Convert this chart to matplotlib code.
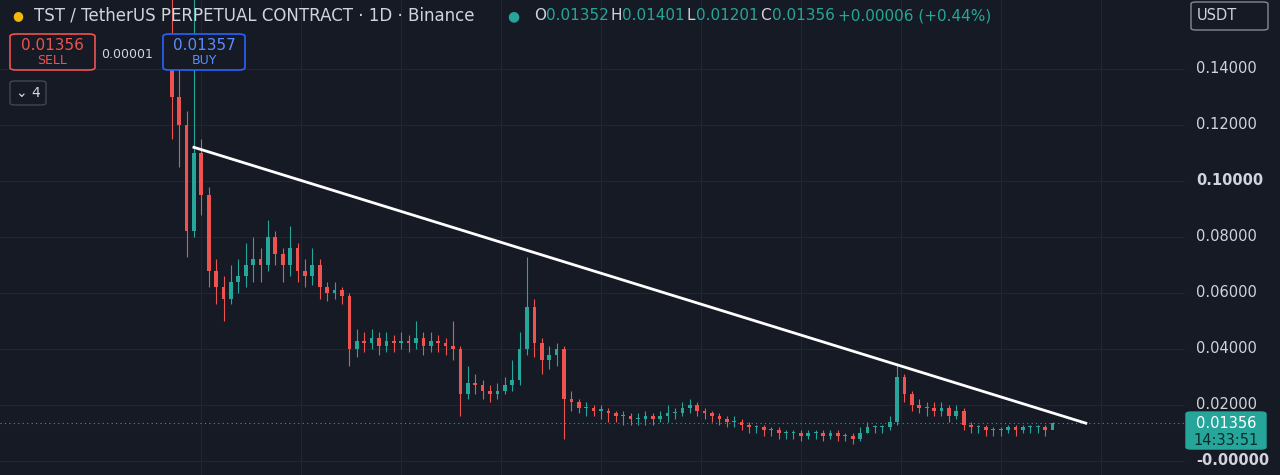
import matplotlib
matplotlib.use("Agg")
import matplotlib.pyplot as plt
from matplotlib.patches import FancyBboxPatch

UP = "#26a69a"
DOWN = "#ef5350"
BG = "#161a25"
TXT = "#d1d4dc"

closes = [0.130, 0.120, 0.082, 0.110, 0.095, 0.068, 0.062, 0.058, 0.064, 0.066,
          0.070, 0.072, 0.070, 0.080, 0.074, 0.070, 0.076, 0.068, 0.066, 0.070,
          0.062, 0.060, 0.061, 0.059, 0.040, 0.043, 0.042, 0.044, 0.041, 0.043,
          0.042, 0.043, 0.042, 0.044, 0.041, 0.043, 0.042, 0.041, 0.040, 0.024,
          0.028, 0.027, 0.025, 0.024, 0.025, 0.027, 0.029, 0.040, 0.055, 0.042,
          0.036, 0.038, 0.040, 0.022, 0.021, 0.019, 0.019, 0.018, 0.018, 0.017,
          0.016, 0.016, 0.015, 0.015, 0.016, 0.015, 0.016, 0.017, 0.017, 0.019,
          0.020, 0.018, 0.017, 0.016, 0.015, 0.014, 0.014, 0.013, 0.012, 0.012,
          0.011, 0.011, 0.010, 0.010, 0.010, 0.009, 0.010, 0.010, 0.009, 0.010,
          0.009, 0.009, 0.008, 0.010, 0.012, 0.012, 0.012, 0.014, 0.030, 0.024,
          0.020, 0.019, 0.019, 0.018, 0.019, 0.016, 0.018, 0.013, 0.012, 0.012,
          0.011, 0.011, 0.011, 0.012, 0.011, 0.012, 0.012, 0.012, 0.011, 0.01356]
highs = [0.165, 0.150, 0.125, 0.165, 0.115, 0.098, 0.072, 0.066, 0.070, 0.072,
         0.078, 0.080, 0.076, 0.086, 0.082, 0.076, 0.084, 0.078, 0.072, 0.076,
         0.072, 0.064, 0.064, 0.062, 0.060, 0.047, 0.046, 0.047, 0.046, 0.046,
         0.045, 0.046, 0.045, 0.050, 0.046, 0.046, 0.045, 0.044, 0.050, 0.041,
         0.034, 0.031, 0.029, 0.027, 0.028, 0.030, 0.036, 0.046, 0.073, 0.058,
         0.044, 0.041, 0.042, 0.041, 0.025, 0.022, 0.021, 0.020, 0.020, 0.019,
         0.018, 0.018, 0.017, 0.017, 0.018, 0.017, 0.018, 0.020, 0.019, 0.021,
         0.022, 0.021, 0.019, 0.018, 0.017, 0.016, 0.016, 0.015, 0.014, 0.013,
         0.013, 0.012, 0.012, 0.011, 0.011, 0.011, 0.011, 0.011, 0.011, 0.011,
         0.011, 0.010, 0.010, 0.012, 0.014, 0.013, 0.013, 0.016, 0.035, 0.031,
         0.025, 0.022, 0.021, 0.021, 0.021, 0.020, 0.020, 0.019, 0.014, 0.013,
         0.013, 0.012, 0.012, 0.013, 0.013, 0.013, 0.013, 0.013, 0.013, 0.0140]
lows = [0.115, 0.105, 0.073, 0.080, 0.088, 0.062, 0.056, 0.050, 0.056, 0.060,
        0.062, 0.064, 0.064, 0.068, 0.070, 0.064, 0.066, 0.064, 0.062, 0.063,
        0.058, 0.057, 0.058, 0.056, 0.034, 0.037, 0.039, 0.040, 0.038, 0.039,
        0.039, 0.040, 0.039, 0.040, 0.038, 0.039, 0.039, 0.038, 0.036, 0.016,
        0.022, 0.024, 0.022, 0.021, 0.022, 0.024, 0.025, 0.027, 0.038, 0.037,
        0.031, 0.033, 0.034, 0.008, 0.018, 0.017, 0.016, 0.016, 0.015, 0.014,
        0.014, 0.013, 0.013, 0.013, 0.013, 0.013, 0.014, 0.014, 0.015, 0.016,
        0.017, 0.016, 0.015, 0.014, 0.013, 0.012, 0.012, 0.011, 0.010, 0.010,
        0.009, 0.009, 0.008, 0.008, 0.008, 0.007, 0.008, 0.008, 0.007, 0.008,
        0.007, 0.007, 0.006, 0.007, 0.010, 0.010, 0.010, 0.011, 0.013, 0.021,
        0.018, 0.017, 0.016, 0.016, 0.016, 0.014, 0.015, 0.011, 0.010, 0.010,
        0.009, 0.009, 0.009, 0.010, 0.009, 0.010, 0.010, 0.010, 0.009, 0.0120]
first_open = 0.140
opens = [first_open] + closes[:-1]

trend_x = [3, 123.5]
trend_y = [0.112, 0.0135]

yticks = [0.0, 0.02, 0.04, 0.06, 0.08, 0.10, 0.12, 0.14]
last_price = 0.01356

fig = plt.figure(figsize=(12.8, 4.75), dpi=100)
fig.patch.set_facecolor(BG)
ax = fig.add_axes([0, 0, 1185 / 1280, 1])
ax.set_facecolor(BG)
ax.set_xlim(-23.2, 136.9)
ax.set_ylim(-0.005, 0.1646)

for v in yticks:
    ax.axhline(v, color="#222632", lw=0.8, zorder=0)
for gx in [4, 17.5, 31, 44.5, 58, 71.5, 85, 98.5, 112, 125.5]:
    ax.axvline(gx, color="#222632", lw=0.8, zorder=0)

for i, (o, h, l, c) in enumerate(zip(opens, highs, lows, closes)):
    col = UP if c >= o else DOWN
    ax.vlines(i, l, h, color=col, lw=0.8, zorder=2)
    lo, hi = min(o, c), max(o, c)
    ax.bar(i, max(hi - lo, 0.0004), bottom=lo, width=0.5, color=col, zorder=3)

ax.plot(trend_x, trend_y, color="white", lw=2, zorder=4)
ax.axhline(last_price, color=UP, lw=0.8, ls=(0, (1, 3)), zorder=1)

for s in ax.spines.values():
    s.set_visible(False)
ax.set_xticks([])
ax.set_yticks([])

# right price scale
for v in yticks:
    yf = (v + 0.005) / 0.1696
    bold = v in (0.0, 0.10)
    lab = "-0.00000" if v == 0.0 else f"{v:.5f}"
    fig.text(1196 / 1280, yf, lab, color=TXT, fontsize=10.5, va="center",
             fontweight="bold" if bold else "normal")

yf = (last_price + 0.005) / 0.1696
fig.patches.append(FancyBboxPatch((1186 / 1280, yf - 26 / 475), 80 / 1280, 37 / 475,
                                  boxstyle="round,pad=0,rounding_size=0.004",
                                  transform=fig.transFigure, color=UP, zorder=5))
fig.text(1226 / 1280, yf, "0.01356", color="white", fontsize=10.5,
         ha="center", va="center", zorder=6)
fig.text(1226 / 1280, yf - 17 / 475, "14:33:51", color="#0d2b28", fontsize=10.5,
         ha="center", va="center", zorder=6)

fig.patches.append(FancyBboxPatch((1191 / 1280, 445 / 475), 77 / 1280, 28 / 475,
                                  boxstyle="round,pad=0,rounding_size=0.004",
                                  transform=fig.transFigure, fc=BG, ec="#868993", lw=1))
fig.text(1197 / 1280, 459 / 475, "USDT", color=TXT, fontsize=10.5, va="center")

# header
fig.text(12 / 1280, 459 / 475, "●", color="#f0b90b", fontsize=9, va="center")
fig.text(34 / 1280, 459 / 475, "TST / TetherUS PERPETUAL CONTRACT · 1D · Binance",
         color=TXT, fontsize=12, va="center")
fig.text(507 / 1280, 459 / 475, "●", color=UP, fontsize=10, va="center")
hdr = [("O", 534), ("0.01352", 546), ("H", 611), ("0.01401", 622), ("L", 686),
       ("0.01201", 696), ("C", 760), ("0.01356", 772), ("+0.00006 (+0.44%)", 838)]
for t, x in hdr:
    fig.text(x / 1280, 459 / 475, t, color=TXT if len(t) == 1 else UP,
             fontsize=11, va="center")

fig.patches.append(FancyBboxPatch((10 / 1280, 405 / 475), 85 / 1280, 36 / 475,
                                  boxstyle="round,pad=0,rounding_size=0.005",
                                  transform=fig.transFigure, fc=BG, ec=DOWN, lw=1.2))
fig.text(52 / 1280, 430 / 475, "0.01356", color=DOWN, fontsize=11, ha="center", va="center")
fig.text(52 / 1280, 414 / 475, "SELL", color=DOWN, fontsize=9, ha="center", va="center")
fig.text(127 / 1280, 421 / 475, "0.00001", color=TXT, fontsize=9, ha="center", va="center")
fig.patches.append(FancyBboxPatch((163 / 1280, 405 / 475), 82 / 1280, 36 / 475,
                                  boxstyle="round,pad=0,rounding_size=0.005",
                                  transform=fig.transFigure, fc=BG, ec="#2962ff", lw=1.2))
fig.text(204 / 1280, 430 / 475, "0.01357", color="#5b8cff", fontsize=11, ha="center", va="center")
fig.text(204 / 1280, 414 / 475, "BUY", color="#5b8cff", fontsize=9, ha="center", va="center")
fig.patches.append(FancyBboxPatch((10 / 1280, 370 / 475), 36 / 1280, 24 / 475,
                                  boxstyle="round,pad=0,rounding_size=0.004",
                                  transform=fig.transFigure, fc=BG, ec="#434651", lw=1))
fig.text(28 / 1280, 382 / 475, "⌄ 4", color=TXT, fontsize=10, ha="center", va="center")

fig.savefig("out.png", dpi=100, facecolor=BG)
